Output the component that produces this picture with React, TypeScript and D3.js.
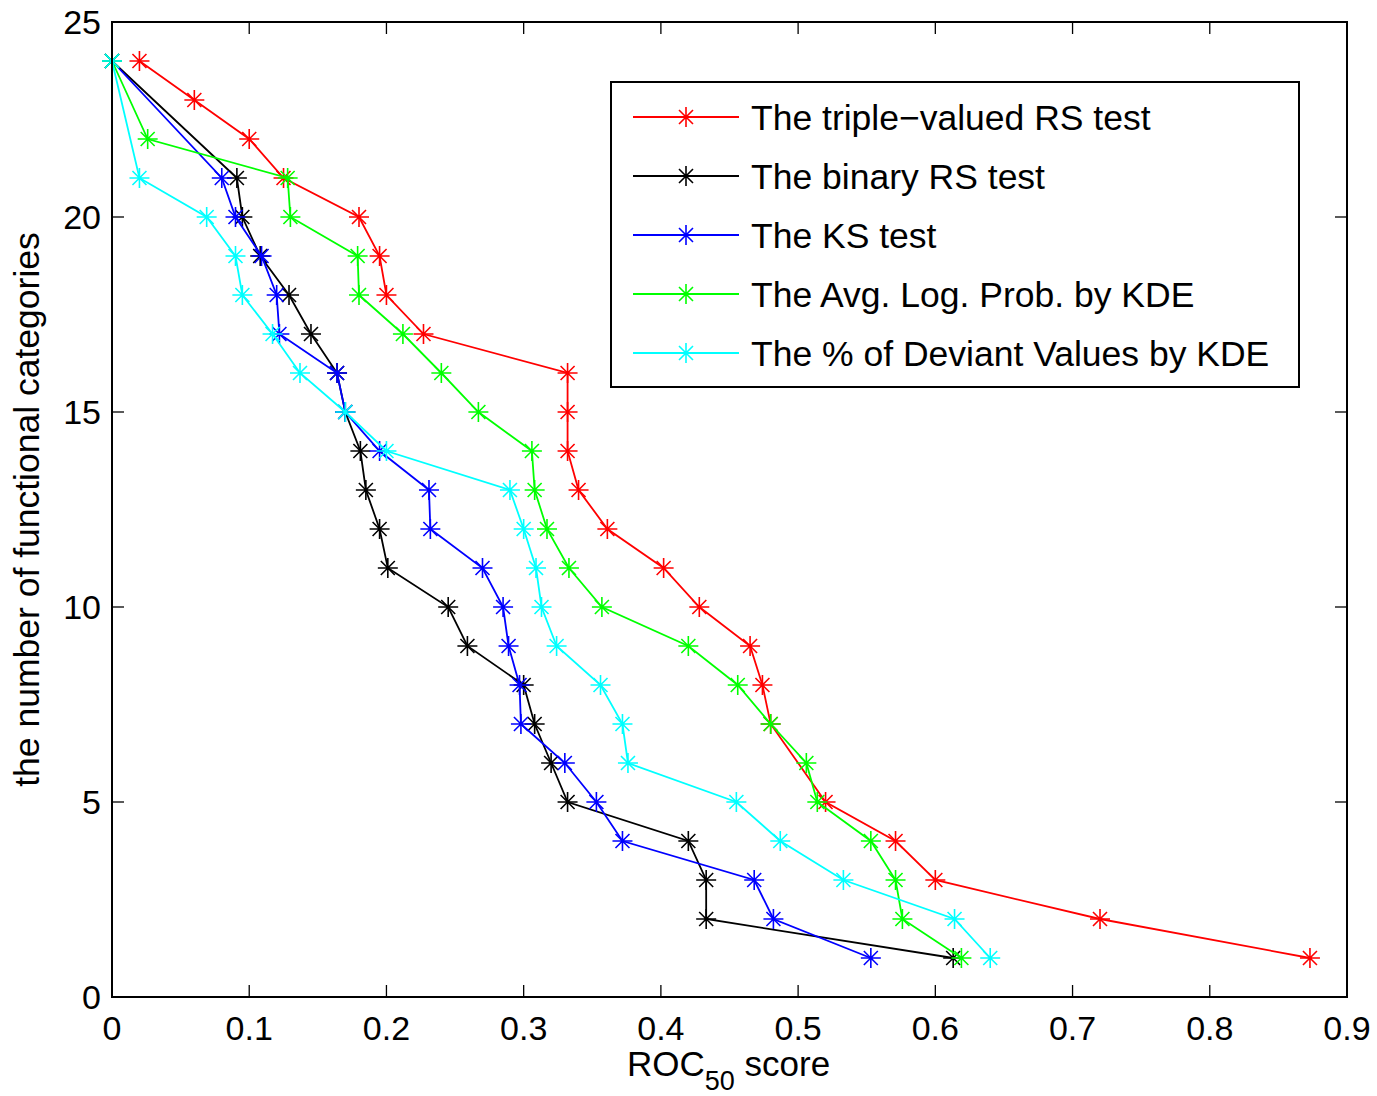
import * as d3 from "d3";

// y = number of functional categories, x = ROC50 score
const tripleY = [24, 23, 22, 21, 20, 19, 18, 17, 16, 15, 14, 13, 12, 11, 10, 9, 8, 7, 5, 4, 3, 2, 1];
const tripleX = [0.02, 0.06, 0.1, 0.125, 0.18, 0.195, 0.2, 0.227, 0.332, 0.332, 0.332, 0.34, 0.361, 0.402, 0.428, 0.465, 0.474, 0.48, 0.52, 0.571, 0.6, 0.72, 0.873];

const binaryY = [24, 21, 20, 19, 18, 17, 16, 15, 14, 13, 12, 11, 10, 9, 8, 7, 6, 5, 4, 3, 2, 1];
const binaryX = [0, 0.091, 0.095, 0.108, 0.129, 0.145, 0.164, 0.17, 0.181, 0.185, 0.195, 0.201, 0.245, 0.259, 0.3, 0.308, 0.32, 0.332, 0.42, 0.433, 0.433, 0.613];

const ksY = [24, 21, 20, 19, 18, 17, 16, 15, 14, 13, 12, 11, 10, 9, 8, 7, 6, 5, 4, 3, 2, 1];
const ksX = [0, 0.08, 0.09, 0.109, 0.12, 0.122, 0.164, 0.17, 0.195, 0.231, 0.232, 0.27, 0.285, 0.289, 0.297, 0.298, 0.33, 0.353, 0.372, 0.468, 0.482, 0.553];

const avgY = [24, 22, 21, 20, 19, 18, 17, 16, 15, 14, 13, 12, 11, 10, 9, 8, 7, 6, 5, 4, 3, 2, 1];
const avgX = [0, 0.026, 0.128, 0.13, 0.179, 0.18, 0.212, 0.24, 0.267, 0.306, 0.308, 0.317, 0.333, 0.357, 0.42, 0.456, 0.48, 0.506, 0.514, 0.553, 0.571, 0.576, 0.619];

const pctY = [24, 21, 20, 19, 18, 17, 16, 15, 14, 13, 12, 11, 10, 9, 8, 7, 6, 5, 4, 3, 2, 1];
const pctX = [0, 0.02, 0.069, 0.09, 0.095, 0.117, 0.137, 0.17, 0.2, 0.29, 0.3, 0.309, 0.313, 0.324, 0.356, 0.372, 0.376, 0.455, 0.487, 0.533, 0.614, 0.64];

const seriesNames = [
  "The triple\u2212valued RS test",
  "The binary RS test",
  "The KS test",
  "The Avg. Log. Prob. by KDE",
  "The % of Deviant Values by KDE",
];
const seriesColors = ["#ff0000", "#000000", "#0000ff", "#00ff00", "#00ffff"];
const seriesXs = [tripleX, binaryX, ksX, avgX, pctX];
const seriesYs = [tripleY, binaryY, ksY, avgY, pctY];

const xTicks = [0, 0.1, 0.2, 0.3, 0.4, 0.5, 0.6, 0.7, 0.8, 0.9];
const yTicks = [0, 5, 10, 15, 20, 25];

const W = 1377;
const H = 1096;
const margin = { left: 112, right: 30, top: 22, bottom: 99 };
const FONT = "'Liberation Sans', Arial, Helvetica, sans-serif";

// MATLAB style '*' marker
function Star({ x, y, color }: { x: number; y: number; color: string }) {
  const r = 10;
  const d = 7;
  const p = `M${-r},0H${r}M0,${-r}V${r}M${-d},${-d}L${d},${d}M${-d},${d}L${d},${-d}`;
  return <path d={p} transform={`translate(${x},${y})`} stroke={color} strokeWidth={1.6} fill="none" />;
}

export default function App() {
  const x = d3.scaleLinear().domain([0, 0.9]).range([margin.left, W - margin.right]);
  const y = d3.scaleLinear().domain([0, 25]).range([H - margin.bottom, margin.top]);
  const x0 = x.range()[0], x1 = x.range()[1];
  const y0 = y.range()[0], y1 = y.range()[1];
  const tick = 12;

  const line = d3.line<[number, number]>().x((d) => x(d[0])).y((d) => y(d[1]));

  const series = seriesNames.map((name, i) => ({
    name,
    color: seriesColors[i],
    pts: seriesXs[i].map((v, j) => [v, seriesYs[i][j]] as [number, number]),
  }));

  const legend = { left: 611, top: 82, width: 688, height: 305, rowTop: 117, rowGap: 59 };

  return (
    <svg width={W} height={H} style={{ position: "absolute", left: 0, top: 0, background: "#fff" }} fontFamily={FONT}>
      <rect x={0} y={0} width={W} height={H} fill="#fff" />

      {/* ticks on all four sides, pointing inward */}
      <g stroke="#000" strokeWidth={1.3}>
        {xTicks.map((t) => (
          <g key={"xt" + t}>
            <line x1={x(t)} x2={x(t)} y1={y0} y2={y0 - tick} />
            <line x1={x(t)} x2={x(t)} y1={y1} y2={y1 + tick} />
          </g>
        ))}
        {yTicks.map((t) => (
          <g key={"yt" + t}>
            <line x1={x0} x2={x0 + tick} y1={y(t)} y2={y(t)} />
            <line x1={x1} x2={x1 - tick} y1={y(t)} y2={y(t)} />
          </g>
        ))}
      </g>

      {/* data */}
      {series.map((s) => (
        <g key={s.name}>
          <path d={line(s.pts) ?? ""} fill="none" stroke={s.color} strokeWidth={1.8} />
          {s.pts.map((p, j) => (
            <Star key={j} x={x(p[0])} y={y(p[1])} color={s.color} />
          ))}
        </g>
      ))}

      <rect x={x0} y={y1} width={x1 - x0} height={y0 - y1} fill="none" stroke="#000" strokeWidth={2} />

      {/* tick labels */}
      <g fontSize={34} fill="#000">
        {xTicks.map((t) => (
          <text key={"xl" + t} x={x(t)} y={1040} textAnchor="middle">
            {d3.format("~g")(t)}
          </text>
        ))}
        {yTicks.map((t) => (
          <text key={"yl" + t} x={x0 - 11} y={y(t)} dy="0.36em" textAnchor="end">
            {t}
          </text>
        ))}
      </g>

      {/* axis labels */}
      <text x={627} y={1076} fontSize={35} fill="#000">
        ROC
        <tspan fontSize={27} dy={14}>50</tspan>
        <tspan dy={-14}> score</tspan>
      </text>
      <text
        transform={`translate(39,${(y0 + y1) / 2}) rotate(-90)`}
        textAnchor="middle"
        fontSize={35.5}
        fill="#000"
      >
        the number of functional categories
      </text>

      {/* legend */}
      <rect x={legend.left} y={legend.top} width={legend.width} height={legend.height} fill="#fff" stroke="#000" strokeWidth={2} />
      {series.map((s, i) => {
        const cy = legend.rowTop + i * legend.rowGap;
        return (
          <g key={"lg" + i}>
            <line x1={633} x2={739} y1={cy} y2={cy} stroke={s.color} strokeWidth={1.8} />
            <Star x={686} y={cy} color={s.color} />
            <text x={751} y={cy} dy="0.36em" fontSize={35.5} fill="#000">
              {s.name}
            </text>
          </g>
        );
      })}
    </svg>
  );
}
